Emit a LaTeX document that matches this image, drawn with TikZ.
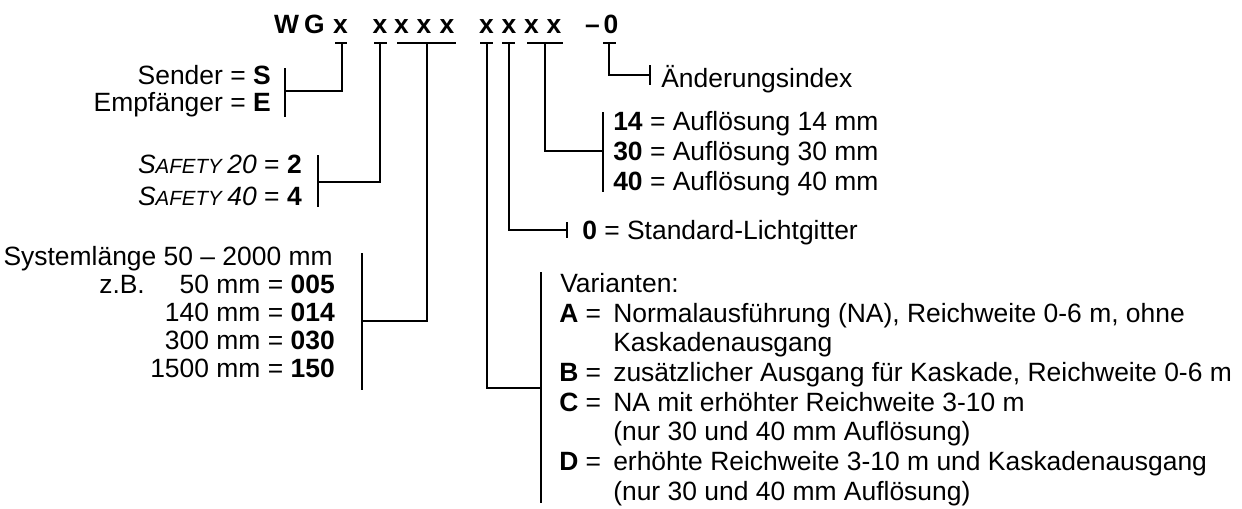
\documentclass[tikz,border=0pt]{standalone}
\usepackage{fontspec}
\setmainfont{Liberation Sans}
\usepackage{tikz}
\usetikzlibrary{calc}

\tikzset{
  lbl/.style={inner sep=0pt, font=\fontsize{18.8}{22}\selectfont},
  lblr/.style={lbl, anchor=base east},
  lbll/.style={lbl, anchor=base west},
  head/.style={inner sep=0pt, anchor=base, font=\fontsize{18.8}{22}\selectfont\bfseries},
  wire/.style={line width=1.3pt}
}
\newcommand{\sfty}{\textit{S{\fontsize{14.6}{16}\selectfont AFETY}}}

\begin{document}
\begin{tikzpicture}[x=0.025cm, y=-0.025cm]
\useasboundingbox (0,0) rectangle (1242,508);

\foreach \n/\x/\c in {hw/286.5/W, hg/314.5/G, h1/340.5/x, h2/380/x, h3/401.5/x, h4/424/x, h5/447/x, h6/486.5/x, h7/509/x, h8/531.5/x, h9/554/x, hd/592.5/--, h0/611/0}
  \node[head] (\n) at (\x,33) {\c};

\foreach \a/\b in {335/347, 374/387, 397/456, 480/493, 502/515, 527/563, 603/616}
  \draw[wire] (\a,43) -- (\b,43);

% tick feet and bracket joints
\coordinate (k1) at (342,43);  \coordinate (j1) at (285,91);
\coordinate (k2) at (380,43);  \coordinate (j2) at (318,182);
\coordinate (k3) at (427,43);  \coordinate (j3) at (362,321);
\coordinate (k4) at (487,43);  \coordinate (j4) at (541,388);
\coordinate (k5) at (509,43);  \coordinate (j5) at (567,230);
\coordinate (k6) at (545,43);  \coordinate (j6) at (603,151);
\coordinate (k7) at (609,43);  \coordinate (j7) at (650,75);

\foreach \i in {1,...,7}
  \draw[wire] (k\i) |- (j\i);

\draw[wire] (285,68) -- (285,117);
\draw[wire] (318,155) -- (318,207);
\draw[wire] (362,253) -- (362,390);
\draw[wire] (541,272) -- (541,503);
\draw[wire] (567,222) -- (567,238);
\draw[wire] (603,112) -- (603,192);
\draw[wire] (650,65) -- (650,85);

\node[lblr] (snd) at (271,84) {Sender = \textbf{S}};
\node[lblr] (emp) at (271,111) {Empfänger = \textbf{E}};

\node[lblr] (saf2) at (302,173) {\sfty\,\textit{20} = \textbf{2}};
\node[lblr] (saf4) at (302,205) {\sfty\,\textit{40} = \textbf{4}};

\node[lblr] (sys) at (333,265) {Systemlänge 50 -- 2000 mm};
\node[lbll] (zb) at (99,293) {z.B.};
\node[lblr] (l005) at (335,293) {50 mm = \textbf{005}};
\node[lblr] (l014) at (335,321) {140 mm = \textbf{014}};
\node[lblr] (l030) at (335,349) {300 mm = \textbf{030}};
\node[lblr] (l150) at (335,377) {1500 mm = \textbf{150}};

\node[lbll] (idx) at (661,87) {Änderungsindex};

\node[lbll] (r14) at (613,130) {\textbf{14} = Auflösung 14 mm};
\node[lbll] (r30) at (613,160) {\textbf{30} = Auflösung 30 mm};
\node[lbll] (r40) at (613,190) {\textbf{40} = Auflösung 40 mm};

\node[lbll] (std) at (582,239) {\textbf{0} = Standard-Lichtgitter};

\node[lbll] (var) at (560,292) {Varianten:};
\foreach \n/\y/\c in {va/322/A, vb/381/B, vc/411/C, vd/470/D}
  \node[lbll] (\n) at (559,\y) {\textbf{\c} =};
\node[lbll] (vat) at (613,322) {Normalausführung (NA), Reichweite 0-6 m, ohne};
\node[lbll] (vak) at (613,351) {Kaskadenausgang};
\node[lbll] (vbt) at (613,381) {zusätzlicher Ausgang für Kaskade, Reichweite 0-6 m};
\node[lbll] (vct) at (613,411) {NA mit erhöhter Reichweite 3-10 m};
\node[lbll] (vcn) at (613,440) {(nur 30 und 40 mm Auflösung)};
\node[lbll] (vdt) at (613,470) {erhöhte Reichweite 3-10 m und Kaskadenausgang};
\node[lbll] (vdn) at (613,500) {(nur 30 und 40 mm Auflösung)};
\end{tikzpicture}
\end{document}
